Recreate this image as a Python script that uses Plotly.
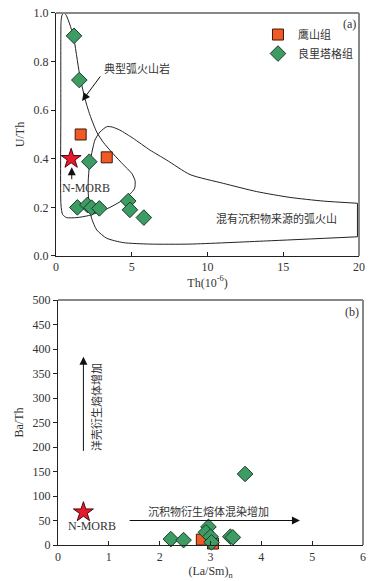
import plotly.graph_objects as go

# ---------------- panel (a): U/Th vs Th ----------------
ys_th = [1.63, 3.35]                      # 鹰山组
ys_uth = [0.50, 0.406]
llt_th = [1.19, 1.54, 2.2, 1.41, 2.07, 2.35, 2.86, 4.77, 4.88, 5.8]   # 良里塔格组
llt_uth = [0.906, 0.724, 0.388, 0.20, 0.21, 0.199, 0.196, 0.226, 0.19, 0.158]
nmorb_th = [1.0]
nmorb_uth = [0.40]

# field: typical arc volcanics (closed outline)
arc_th = [0.32, 0.32, 0.34, 0.42, 0.55, 0.68, 0.9, 1.15, 1.55, 1.9, 2.24, 2.69, 3.12, 3.78,
          4.44, 5.0, 5.22, 5.2, 5.0, 4.22, 3.56, 2.9, 2.13, 1.37, 0.7, 0.44, 0.33, 0.32]
arc_uth = [0.6, 0.9, 0.97, 0.995, 1.0, 0.99, 0.955, 0.905, 0.75, 0.65, 0.58, 0.51, 0.468, 0.42,
           0.376, 0.34, 0.31, 0.28, 0.262, 0.223, 0.2, 0.182, 0.166, 0.158, 0.158, 0.17, 0.21, 0.6]

# field: arc volcanics with sediment input (open curve + straight right edge)
sed_th = [19.9, 17.64, 15.45, 13.25, 11.04, 8.85, 7.3, 6.2, 5.1, 4.22, 3.7, 3.35, 2.9,
          2.57, 2.35, 2.2, 2.13, 2.13, 2.2, 2.35, 2.69, 3.35, 4.44, 6.2, 8.85, 13.9, 19.9]
sed_uth = [0.217, 0.226, 0.241, 0.265, 0.299, 0.335, 0.395, 0.436, 0.484, 0.518, 0.531,
           0.532, 0.51, 0.477, 0.42, 0.367, 0.313, 0.258, 0.203, 0.155, 0.107, 0.073, 0.055,
           0.049, 0.049, 0.062, 0.079]
sed_edge_th = [19.9, 19.9]
sed_edge_uth = [0.079, 0.217]

# ---------------- panel (b): Ba/Th vs (La/Sm)n ----------------
ys_lasm = [2.83, 3.05]
ys_bath = [11, 3]
llt_lasm = [2.22, 2.47, 2.96, 2.91, 3.0, 3.02, 3.39, 3.44, 3.68]
llt_bath = [12, 10, 37, 26, 17, 5.5, 17, 15.5, 145]
nmorb_lasm = [0.5]
nmorb_bath = [67]

SERIF = "Liberation Serif, Times New Roman, serif"
CJK = "Noto Sans CJK SC, sans-serif"
SQ = dict(symbol="square", size=11, color="#f15a24", line=dict(color="#3b1a0a", width=1))
DI = dict(symbol="diamond", size=12, color="#3d9c64", line=dict(color="#1b3b27", width=1))
ST = dict(symbol="star", size=15, color="#e8192c", line=dict(color="#4a0a0a", width=1))
CURVE = dict(color="#222", width=1, shape="spline", smoothing=0.6)

fig = go.Figure()

fig.add_trace(go.Scatter(x=arc_th, y=arc_uth, mode="lines", line=CURVE, showlegend=False, hoverinfo="skip"))
fig.add_trace(go.Scatter(x=sed_th, y=sed_uth, mode="lines", line=CURVE, showlegend=False, hoverinfo="skip"))
fig.add_trace(go.Scatter(x=sed_edge_th, y=sed_edge_uth, mode="lines", line=dict(color="#222", width=1),
                         showlegend=False, hoverinfo="skip"))
fig.add_trace(go.Scatter(x=ys_th, y=ys_uth, mode="markers", marker=SQ, name="鹰山组"))
fig.add_trace(go.Scatter(x=llt_th, y=llt_uth, mode="markers", marker=DI, name="良里塔格组"))
fig.add_trace(go.Scatter(x=nmorb_th, y=nmorb_uth, mode="markers", marker=ST, showlegend=False))

fig.add_trace(go.Scatter(x=ys_lasm, y=ys_bath, mode="markers", marker=SQ, showlegend=False,
                         xaxis="x2", yaxis="y2", cliponaxis=False))
fig.add_trace(go.Scatter(x=llt_lasm, y=llt_bath, mode="markers", marker=DI, showlegend=False,
                         xaxis="x2", yaxis="y2", cliponaxis=False))
fig.add_trace(go.Scatter(x=nmorb_lasm, y=nmorb_bath, mode="markers", marker=ST, showlegend=False,
                         xaxis="x2", yaxis="y2"))

tickfont = dict(family=SERIF, size=12, color="#333")
common = dict(showgrid=False, zeroline=False, showline=True, linecolor="#222", linewidth=1.2,
              tickfont=tickfont, tickcolor="#222", ticklen=4, automargin=False,
              ticklabeloverflow="allow")

# page body adds an 8px margin, so the figure is sized to the visible window
fig.update_layout(
    width=372, height=573,
    margin=dict(l=0, r=0, t=0, b=0),
    paper_bgcolor="white", plot_bgcolor="white",
    xaxis=dict(domain=[0.1290, 0.9435], range=[0, 20], dtick=5, ticks="inside", anchor="y",
               title=dict(text="Th(10<sup>-6</sup>)", font=dict(family=SERIF, size=12, color="#333"), standoff=4),
               **common),
    yaxis=dict(domain=[0.5672, 0.9913], range=[0, 1], dtick=0.2, tickformat=".1f", ticks="outside", anchor="x",
               title=dict(text="U/Th", font=dict(family=SERIF, size=12, color="#333"), standoff=6),
               **common),
    xaxis2=dict(domain=[0.1344, 0.9543], range=[0, 6], dtick=1, ticks="inside", anchor="y2",
                title=dict(text="(La/Sm)<sub>n</sub>", font=dict(family=SERIF, size=12, color="#333"), standoff=4),
                **common),
    yaxis2=dict(domain=[0.0628, 0.4904], range=[0, 500], dtick=50, ticks="outside", anchor="x2",
                title=dict(text="Ba/Th", font=dict(family=SERIF, size=12, color="#333"), standoff=6),
                **common),
    legend=dict(x=0.672, y=0.979, xanchor="left", yanchor="top", bgcolor="rgba(0,0,0,0)",
                font=dict(family=CJK, size=11, color="#333"), tracegroupgap=0, itemwidth=30),
)

# gray top/right frame
for xr, yr in [("x domain", "y domain"), ("x2 domain", "y2 domain")]:
    fig.add_shape(type="line", xref=xr, yref=yr, x0=0, x1=1, y0=1, y1=1, line=dict(color="#888", width=2))
    fig.add_shape(type="line", xref=xr, yref=yr, x0=1, x1=1, y0=0, y1=1, line=dict(color="#888", width=2))

txt_cjk = dict(family=CJK, size=11, color="#333")
txt_serif = dict(family=SERIF, size=12, color="#333")
arrow = dict(showarrow=True, arrowhead=2, arrowsize=1.6, arrowwidth=1, arrowcolor="#111")

# panel (a) annotations
fig.add_annotation(x=19.35, y=0.955, xref="x", yref="y", text="(a)", showarrow=False, font=txt_serif)
fig.add_annotation(x=5.35, y=0.774, xref="x", yref="y", text="典型弧火山岩", showarrow=False, font=txt_cjk)
fig.add_annotation(x=1.72, y=0.638, ax=3.0, ay=0.745, xref="x", yref="y", axref="x", ayref="y", text="", **arrow)
fig.add_annotation(x=1.04, y=0.365, ax=1.04, ay=0.31, xref="x", yref="y", axref="x", ayref="y", text="", **arrow)
fig.add_annotation(x=2.0, y=0.28, xref="x", yref="y", text="N-MORB", showarrow=False, font=txt_serif)
fig.add_annotation(x=14.57, y=0.158, xref="x", yref="y", text="混有沉积物来源的弧火山", showarrow=False, font=txt_cjk)

# panel (b) annotations
fig.add_annotation(x=5.78, y=476, xref="x2", yref="y2", text="(b)", showarrow=False, font=txt_serif)
fig.add_annotation(x=0.5, y=384, ax=0.5, ay=189, xref="x2", yref="y2", axref="x2", ayref="y2", text="", **arrow)
fig.add_annotation(x=0.76, y=281, xref="x2", yref="y2", text="洋壳衍生熔体增加", textangle=-90,
                   showarrow=False, font=txt_cjk)
fig.add_annotation(x=4.76, y=50, ax=1.38, ay=50, xref="x2", yref="y2", axref="x2", ayref="y2", text="", **arrow)
fig.add_annotation(x=2.96, y=70, xref="x2", yref="y2", text="沉积物衍生熔体混染增加", showarrow=False, font=txt_cjk)
fig.add_annotation(x=0.66, y=39, xref="x2", yref="y2", text="N-MORB", showarrow=False, font=txt_serif)

fig.write_html("out.html")
